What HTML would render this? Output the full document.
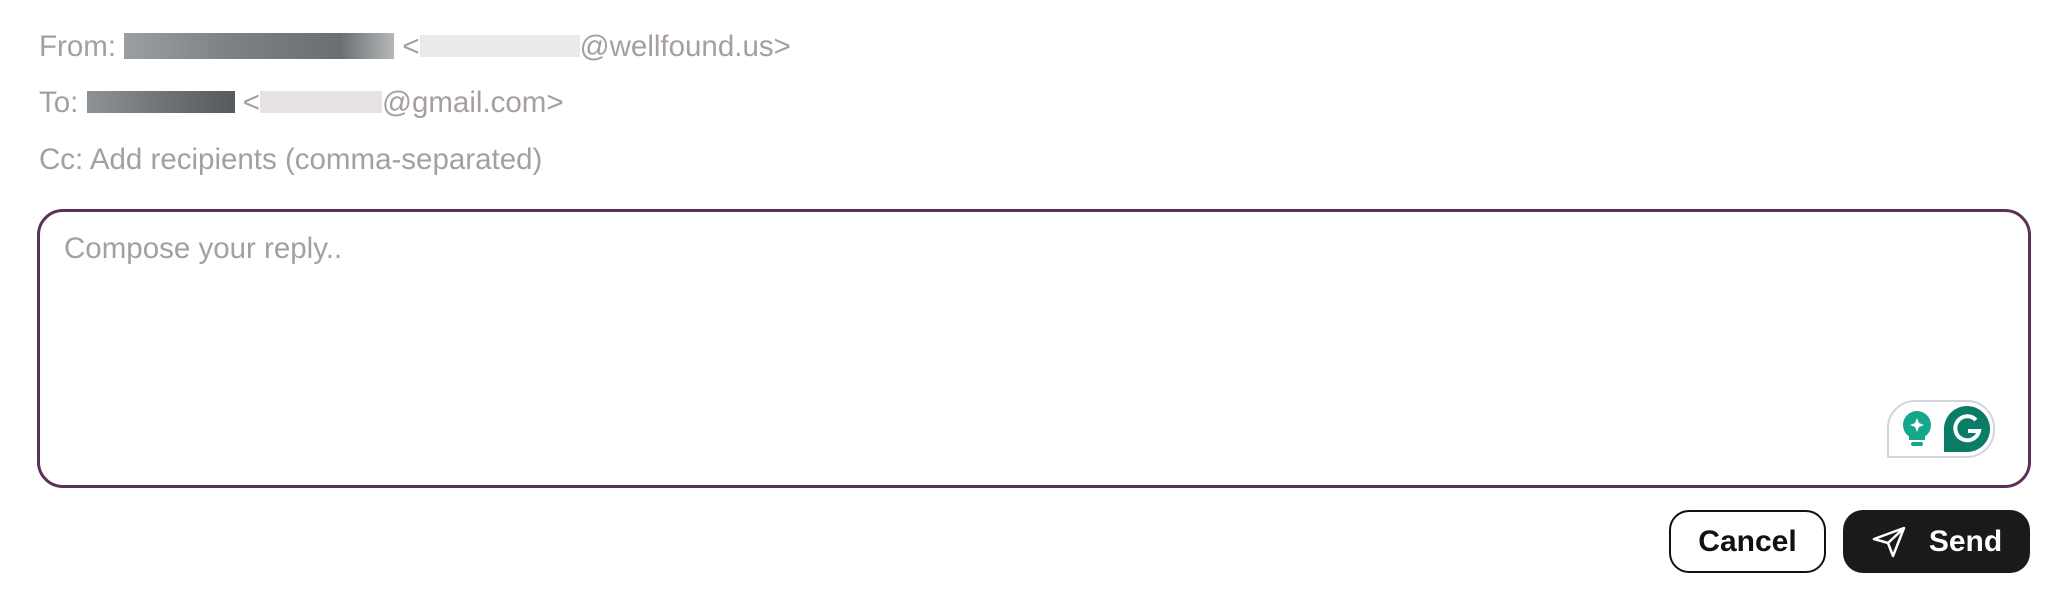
<!DOCTYPE html>
<html><head><meta charset="utf-8"><style>
body{margin:0;width:2058px;height:598px;background:#fff;position:relative;overflow:hidden;font-family:"Liberation Sans",sans-serif;}
.t{position:absolute;left:39px;font-size:29.5px;color:#a59ea3;white-space:nowrap;}
.blur{display:inline-block;vertical-align:middle;}
.ta{position:absolute;left:37px;top:209px;width:1988px;height:273px;border:3px solid #5a3257;border-radius:26px;}
.btn{position:absolute;top:510px;height:63px;border-radius:20px;font-weight:bold;font-size:30px;display:flex;align-items:center;justify-content:center;box-sizing:border-box;}
</style></head><body>
<div class="t" style="top:30px">From: <span class="blur" style="width:270px;height:26px;background:linear-gradient(90deg,#9a9ea0,#7c8183 40%,#6a6f71 80%,#b5b8b9);margin-top:-4px"></span> &lt;<span class="blur" style="width:160px;height:22px;background:#ece9ec;margin-top:-4px"></span>@wellfound.us&gt;</div>
<div class="t" style="top:86px">To: <span class="blur" style="width:148px;height:22px;background:linear-gradient(90deg,#8f9395,#6f7476 50%,#555a5c);margin-top:-4px"></span> &lt;<span class="blur" style="width:122px;height:22px;background:#e6e2e6;margin-top:-4px"></span>@gmail.com&gt;</div>
<div class="t" style="top:143px">Cc: Add recipients (comma-separated)</div>
<div class="ta"></div>
<div class="t" style="left:64px;top:232px">Compose your reply..</div>
<div style="position:absolute;left:1887px;top:400px;width:108px;height:58px;border:2px solid #d3d5de;border-radius:28px 28px 28px 0;box-sizing:border-box;background:#fff"></div>
<svg style="position:absolute;left:1900px;top:406px" width="96" height="48">
<circle cx="17" cy="19" r="14" fill="#14a78a"/><path d="M9 28 h16 v6 h-16z" fill="#14a78a"/><rect x="11" y="36" width="12" height="4" rx="2" fill="#14a78a"/>
<path d="M17 12 L19 17 L24 19 L19 21 L17 26 L15 21 L10 19 L15 17Z" fill="#fff"/>
<path d="M44 46 V23 A23 23 0 0 1 67 0 A23 23 0 0 1 90 23 A23 23 0 0 1 67 46 Z" fill="#0b7d67"/>
<path d="M76 14 A12 12 0 1 0 79 25 H68" fill="none" stroke="#fff" stroke-width="4"/>
</svg>
<div class="btn" style="left:1669px;width:157px;border:2px solid #111;color:#111;background:#fff">Cancel</div>
<div class="btn" style="left:1843px;width:187px;background:#1a1a1a;color:#fff"><svg width="36" height="34" style="margin-right:22px"><path d="M3 14 L33 3 L22 31 L17 18 Z M17 18 L33 3" fill="none" stroke="#fff" stroke-width="2.5" stroke-linejoin="round"/></svg>Send</div>
</body></html>
